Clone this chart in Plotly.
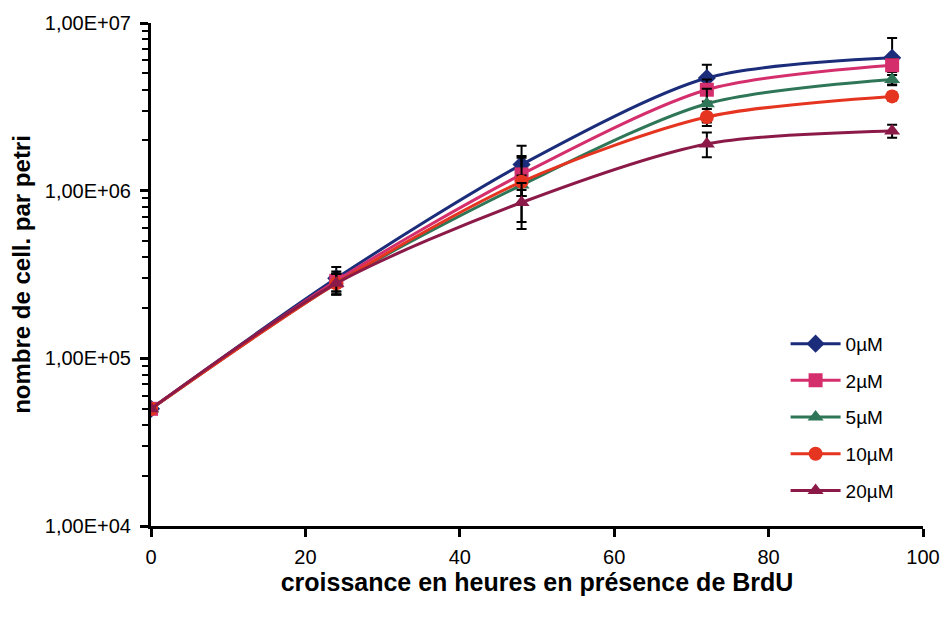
import plotly.graph_objects as go

hours = [0, 24, 48, 72, 96]
series_names = ["0µM", "2µM", "5µM", "10µM", "20µM"]
vals_0 = [5.0e4, 3.0e5, 1.43e6, 4.7e6, 6.2e6]
vals_2 = [5.0e4, 2.9e5, 1.25e6, 4.0e6, 5.6e6]
vals_5 = [5.0e4, 2.8e5, 1.08e6, 3.3e6, 4.6e6]
vals_10 = [5.0e4, 2.8e5, 1.13e6, 2.75e6, 3.65e6]
vals_20 = [5.0e4, 2.8e5, 8.5e5, 1.9e6, 2.27e6]
err_0 = [0, 5.0e4, 4.2e5, 9.3e5, 1.95e6]
err_2 = [0, 4.0e4, 3.2e5, 6.0e5, 5.0e5]
err_5 = [0, 4.0e4, 1.5e5, 7.5e5, 3.0e5]
err_10 = [0, 4.0e4, 4.8e5, 3.2e5, 2.0e5]
err_20 = [0, 4.0e4, 2.6e5, 3.2e5, 2.0e5]

y_tickvals = [1e4, 1e5, 1e6, 1e7]
y_ticktext = ["1,00E+04", "1,00E+05", "1,00E+06", "1,00E+07"]
x_tickvals = [0, 20, 40, 60, 80, 100]
x_title = "croissance en heures en présence de BrdU"
y_title = "nombre de cell. par petri"

colors = ["#1b2d7a", "#d42f6c", "#2e7657", "#e5341f", "#8c1a48"]
markers = ["diamond", "square", "triangle-up", "circle", "triangle-up"]
all_vals = [vals_0, vals_2, vals_5, vals_10, vals_20]
all_errs = [err_0, err_2, err_5, err_10, err_20]

fig = go.Figure()
for i, name in enumerate(series_names):
    fig.add_trace(go.Scatter(
        x=hours, y=all_vals[i], name=name, mode="lines+markers",
        line=dict(color=colors[i], width=3, shape="spline", smoothing=0.8),
        marker=dict(symbol=markers[i], size=14, color=colors[i]),
        error_y=dict(type="data", array=all_errs[i], color="black", thickness=2, width=5),
        legendgroup=name,
    ))

minor_vals = [m * 10 ** e for e in range(4, 7) for m in range(2, 10)]

fig.update_layout(
    width=946, height=619,
    margin=dict(l=151, r=23, t=20, b=93),
    paper_bgcolor="white", plot_bgcolor="white",
    font=dict(family="Liberation Sans, Arial, sans-serif", size=20, color="black"),
    showlegend=True,
    legend=dict(x=0.822, y=0.4, xanchor="left", yanchor="top",
                font=dict(size=19), bgcolor="rgba(0,0,0,0)",
                tracegroupgap=9, traceorder="grouped", itemwidth=50),
    xaxis=dict(range=[0, 100], tickvals=x_tickvals, showgrid=False, zeroline=False,
               showline=True, linecolor="black", linewidth=3,
               ticks="outside", ticklen=8, tickwidth=3, tickcolor="black",
               ticklabelstandoff=3, automargin=False,
               title=dict(text="<b>" + x_title + "</b>",
                          font=dict(size=25), standoff=0)),
    yaxis=dict(type="log", range=[4, 7], tickvals=y_tickvals, ticktext=y_ticktext,
               showgrid=False, zeroline=False,
               showline=True, linecolor="black", linewidth=3,
               ticks="outside", ticklen=8, tickwidth=3, tickcolor="black",
               ticklabelstandoff=5,
               minor=dict(tickvals=minor_vals, ticks="outside", ticklen=6,
                          tickwidth=2, tickcolor="black", showgrid=False),
               title=dict(text="<b>" + y_title + "</b>",
                          font=dict(size=24), standoff=8)),
)

fig.write_html("out.html")
